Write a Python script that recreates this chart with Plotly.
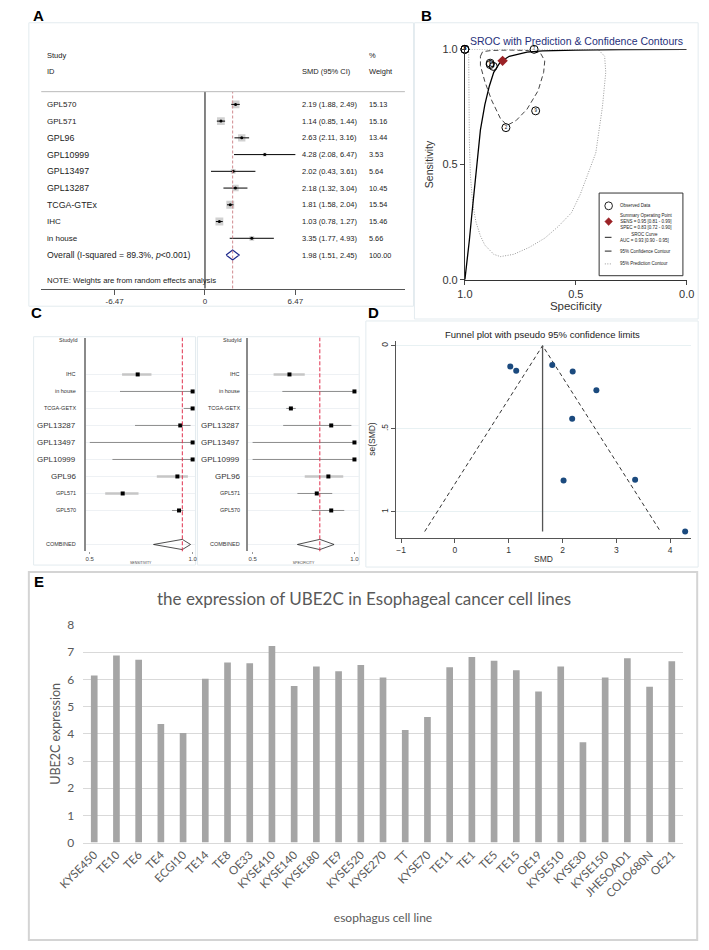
import plotly.graph_objects as go
import numpy as np

# ---------------- DATA ----------------
# Panel A: forest plot of SMD
studies_A = ["GPL570", "GPL571", "GPL96", "GPL10999", "GPL13497", "GPL13287", "TCGA-GTEx", "IHC", "in house"]
smd = [2.19, 1.14, 2.63, 4.28, 2.02, 2.18, 1.81, 1.03, 3.35]
smd_lo = [1.88, 0.85, 2.11, 2.08, 0.43, 1.32, 1.58, 0.78, 1.77]
smd_hi = [2.49, 1.44, 3.16, 6.47, 3.61, 3.04, 2.04, 1.27, 4.93]
weights = [15.13, 15.16, 13.44, 3.53, 5.64, 10.45, 15.54, 15.46, 5.66]
overall_smd = [1.98, 1.51, 2.45]
overall_weight = 100.00
i_squared = 89.3
ticks_A = [-6.47, 0, 6.47]

# Panel C: sensitivity / specificity forest plots (also the observed data of panel B)
studies_C = ["IHC", "in house", "TCGA-GETX", "GPL13287", "GPL13497", "GPL10999", "GPL96", "GPL571", "GPL570"]
sens = [0.733, 1.0, 1.0, 0.94, 1.0, 1.0, 0.926, 0.66, 0.934]
sens_lo = [0.657, 0.647, 0.957, 0.72, 0.50, 0.61, 0.826, 0.575, 0.90]
sens_hi = [0.80, 1.0, 1.0, 0.99, 1.0, 1.0, 0.977, 0.737, 0.955]
spec = [0.681, 1.0, 0.688, 0.886, 1.0, 1.0, 0.872, 0.815, 0.886]
spec_lo = [0.603, 0.646, 0.665, 0.65, 0.50, 0.50, 0.756, 0.72, 0.79]
spec_hi = [0.756, 1.0, 0.712, 0.985, 1.0, 1.0, 0.945, 0.891, 0.95]
pooled_sens = [0.95, 0.81, 0.99]
pooled_spec = [0.83, 0.72, 0.90]
auc = [0.93, 0.90, 0.95]

# Panel B: SROC curve and contours (specificity, sensitivity)
sroc_spec = [1.0, 0.99, 0.98, 0.97, 0.96, 0.95, 0.94, 0.93, 0.91, 0.89, 0.87, 0.84, 0.80, 0.75, 0.72, 0.65, 0.5, 0.3, 0.0]
sroc_sens = [0.0, 0.08, 0.17, 0.27, 0.37, 0.46, 0.56, 0.65, 0.76, 0.84, 0.90, 0.945, 0.97, 0.983, 0.988, 0.993, 0.997, 0.999, 1.0]
conf_spec = [0.93, 0.92, 0.88, 0.80, 0.72, 0.66, 0.64, 0.645, 0.67, 0.72, 0.77, 0.81, 0.84, 0.88, 0.91, 0.93, 0.93]
conf_sens = [0.97, 0.99, 0.995, 0.997, 0.995, 0.985, 0.95, 0.90, 0.82, 0.74, 0.69, 0.67, 0.70, 0.78, 0.86, 0.93, 0.97]
pred_spec = [0.983, 0.983, 0.98, 0.975, 0.965, 0.95, 0.93, 0.91, 0.87, 0.84, 0.78, 0.71, 0.64, 0.58, 0.52, 0.48, 0.45, 0.41, 0.38, 0.365, 0.37, 0.40, 0.983]
pred_sens = [1.0, 0.8, 0.6, 0.45, 0.33, 0.25, 0.19, 0.15, 0.11, 0.10, 0.11, 0.14, 0.18, 0.23, 0.29, 0.37, 0.45, 0.55, 0.75, 0.90, 0.97, 1.0, 1.0]

# Panel D: funnel plot
se_smd = [0.156, 0.151, 0.268, 1.118, 0.811, 0.439, 0.117, 0.125, 0.806]
fixed_smd = 1.63

# Panel E: UBE2C expression in cell lines
cell_lines = ["KYSE450", "TE10", "TE6", "TE4", "ECGI10", "TE14", "TE8", "OE33", "KYSE410", "KYSE140",
              "KYSE180", "TE9", "KYSE520", "KYSE270", "TT", "KYSE70", "TE11", "TE1", "TE5", "TE15",
              "OE19", "KYSE510", "KYSE30", "KYSE150", "JHESOAD1", "COLO680N", "OE21"]
expression = [6.15, 6.88, 6.73, 4.36, 4.03, 6.03, 6.62, 6.60, 7.23, 5.76,
              6.48, 6.30, 6.53, 6.07, 4.14, 4.62, 6.45, 6.83, 6.69, 6.34,
              5.56, 6.48, 3.69, 6.07, 6.78, 5.73, 6.67]

# ---------------- LAYOUT HELPERS ----------------
W, H = 709, 950
def fx(p): return p / W
def fy(p): return 1 - p / H
def xd(a, b): return [a / W, b / W]
def yd(t, b): return [1 - b / H, 1 - t / H]

ARIAL = "Liberation Sans"
CAL = "Lato"
fig = go.Figure()
ann = []
shp = []

def text(t, x, y, size, anchor="left", color="#222", family=ARIAL, xref="paper", yref="paper", angle=0, yanchor="middle"):
    ann.append(dict(text=t, x=x, y=y, xref=xref, yref=yref, showarrow=False, xanchor=anchor,
                    yanchor=yanchor, textangle=angle, font=dict(size=size, color=color, family=family)))

def frame(x0, y0, x1, y1, color="#e3ebef", width=1):
    shp.append(dict(type="rect", xref="paper", yref="paper", x0=fx(x0), x1=fx(x1), y0=fy(y1), y1=fy(y0),
                    line=dict(color=color, width=width), fillcolor="rgba(0,0,0,0)", layer="below"))

def pline(x0, y0, x1, y1, color="#222", width=1, dash="solid"):
    shp.append(dict(type="line", xref="paper", yref="paper", x0=fx(x0), x1=fx(x1), y0=fy(y0), y1=fy(y1),
                    line=dict(color=color, width=width, dash=dash)))

# panel frames
frame(3, 15, 407, 303)
frame(408, 15, 706, 316)
frame(8, 334, 178, 566)
frame(180, 334, 350, 566)
frame(357, 318, 706, 568)
frame(3, 573, 705, 947, color="#d4d4d4", width=2)

# ---------------- PANEL A ----------------
rowsA = list(range(len(studies_A)))
cx, cy = [], []
for i, (l, h) in enumerate(zip(smd_lo, smd_hi)):
    cx += [l, h, None]; cy += [i, i, None]
fig.add_trace(go.Scatter(x=smd, y=rowsA, mode="markers", xaxis="x", yaxis="y", showlegend=False, hoverinfo="skip",
                         marker=dict(symbol="square", size=[2.0 * np.sqrt(w) for w in weights], color="#bdbdbd", line_width=0)))
fig.add_trace(go.Scatter(x=cx, y=cy, mode="lines", xaxis="x", yaxis="y", showlegend=False, hoverinfo="skip",
                         line=dict(color="black", width=1)))
fig.add_trace(go.Scatter(x=smd, y=rowsA, mode="markers", xaxis="x", yaxis="y", showlegend=False, hoverinfo="skip",
                         marker=dict(symbol="circle", size=3, color="black")))
ov_row = len(studies_A)
ov_e, ov_l, ov_h = overall_smd
fig.add_trace(go.Scatter(x=[ov_l, ov_e, ov_h, ov_e, ov_l], y=[ov_row, ov_row - 0.3, ov_row, ov_row + 0.3, ov_row],
                         mode="lines", xaxis="x", yaxis="y", showlegend=False, hoverinfo="skip",
                         line=dict(color="#1f2a8c", width=1.2)))
shp.append(dict(type="line", xref="x", yref="y domain", x0=0, x1=0, y0=0, y1=1, line=dict(color="#333", width=1.2)))
shp.append(dict(type="line", xref="x", yref="y domain", x0=ov_e, x1=ov_e, y0=0, y1=1,
                line=dict(color="#d08a8f", width=1, dash="3px,2px")))
shp.append(dict(type="line", xref="x domain", yref="y domain", x0=0, x1=1, y0=1, y1=1, line=dict(color="#bbbbbb", width=1)))

sizeA = {"GPL570": 8, "GPL571": 8, "IHC": 8, "in house": 8}
for i, s in enumerate(studies_A):
    text(s, fx(20), i, sizeA.get(s, 8.8), xref="paper", yref="y")
    text(f"{smd[i]:.2f} ({smd_lo[i]:.2f}, {smd_hi[i]:.2f})", fx(288), i, 7.5, xref="paper", yref="y")
    text(f"{weights[i]:.2f}", fx(358), i, 7.3, xref="paper", yref="y")
text(f"Overall (I-squared = {i_squared}%, <i>p</i>&lt;0.001)", fx(20), ov_row, 8.7, xref="paper", yref="y")
text(f"{ov_e:.2f} ({ov_l:.2f}, {ov_h:.2f})", fx(288), ov_row, 7.5, xref="paper", yref="y")
text(f"{overall_weight:.2f}", fx(358), ov_row, 7.3, xref="paper", yref="y")
text("NOTE: Weights are from random effects analysis", fx(20), fy(277), 7.8)
text("Study", fx(20), fy(48), 7.5)
text("ID", fx(20), fy(65), 7.5)
text("SMD (95% CI)", fx(288), fy(65), 7.5)
text("%", fx(358), fy(48), 7.5)
text("Weight", fx(358), fy(65), 7.5)

# ---------------- PANEL B ----------------
fig.add_trace(go.Scatter(x=pred_spec, y=pred_sens, mode="lines", xaxis="x2", yaxis="y2", showlegend=False,
                         line=dict(color="#9a9a9a", width=1, dash="1px,1.5px"), hoverinfo="skip", cliponaxis=False))
fig.add_trace(go.Scatter(x=conf_spec, y=conf_sens, mode="lines", xaxis="x2", yaxis="y2", showlegend=False,
                         line=dict(color="#444", width=1, dash="5px,3px"), hoverinfo="skip", cliponaxis=False))
fig.add_trace(go.Scatter(x=sroc_spec, y=sroc_sens, mode="lines", xaxis="x2", yaxis="y2", showlegend=False,
                         line=dict(color="black", width=1.3), hoverinfo="skip", cliponaxis=False))
fig.add_trace(go.Scatter(x=spec, y=sens, mode="markers+text", xaxis="x2", yaxis="y2", showlegend=False,
                         text=[str(len(studies_C) - i) for i in range(len(studies_C))],
                         textposition="middle center", textfont=dict(size=4.5, color="black"),
                         marker=dict(symbol="circle-open", size=8, color="black", line=dict(width=1)),
                         hoverinfo="skip", cliponaxis=False))
fig.add_trace(go.Scatter(x=[pooled_spec[0]], y=[pooled_sens[0]], mode="markers", xaxis="x2", yaxis="y2",
                         showlegend=False, marker=dict(symbol="diamond", size=8, color="#9b2226"),
                         hoverinfo="skip", cliponaxis=False))
text("SROC with Prediction &amp; Confidence Contours", fx(578), fy(34), 10.5, anchor="center", color="#26307a")

# manual legend box for panel B
frame(602, 188, 690, 272, color="#333", width=1)
shp.append(dict(type="circle", xref="paper", yref="paper", x0=fx(608), x1=fx(616), y0=fy(205), y1=fy(197),
                line=dict(color="#222", width=1)))
shp.append(dict(type="path", xref="paper", yref="paper",
                path=f"M {fx(612)},{fy(213)} L {fx(616)},{fy(217)} L {fx(612)},{fy(221)} L {fx(608)},{fy(217)} Z",
                fillcolor="#9b2226", line=dict(color="#9b2226", width=0.5)))
pline(608, 233, 615, 233, "#222", 1)
pline(608, 247, 615, 247, "#222", 1)
pline(608, 260, 615, 260, "#999", 1, "1px,1.5px")
LF = 4.5
text("Observed Data", fx(622), fy(201), LF)
text(f"Summary Operating Point<br>SENS = {pooled_sens[0]:.2f} [{pooled_sens[1]:.2f} - {pooled_sens[2]:.2f}]"
     f"<br>SPEC = {pooled_spec[0]:.2f} [{pooled_spec[1]:.2f} - {pooled_spec[2]:.2f}]", fx(622), fy(217), LF)
text(f"SROC Curve<br>AUC = {auc[0]:.2f} [{auc[1]:.2f} - {auc[2]:.2f}]", fx(622), fy(233), LF)
text("95% Confidence Contour", fx(622), fy(247), LF)
text("95% Prediction Contour", fx(622), fy(260), LF)

# ---------------- PANEL C ----------------
small_lab = {"IHC", "in house", "TCGA-GETX", "GPL571", "GPL570"}
thick_rows_sens = {"IHC", "GPL96", "GPL571"}
thick_rows_spec = {"IHC", "GPL96"}
comb_row = len(studies_C) + 1

def forestC(est, lo, hi, pooled, xa, ya, lab_x, thick):
    rows = list(range(len(studies_C)))
    for i, s in enumerate(studies_C):
        if s in thick:
            col, wd = "#c6c6c6", 2.5
        else:
            col, wd = "#8c8c8c", 1
        fig.add_trace(go.Scatter(x=[lo[i], hi[i]], y=[i, i], mode="lines", xaxis=xa, yaxis=ya, showlegend=False,
                                 hoverinfo="skip", line=dict(color=col, width=wd), cliponaxis=False))
    fig.add_trace(go.Scatter(x=est, y=rows, mode="markers", xaxis=xa, yaxis=ya, showlegend=False, hoverinfo="skip",
                             marker=dict(symbol="square", size=4, color="black"), cliponaxis=False))
    e, l, h = pooled
    fig.add_trace(go.Scatter(x=[l, e, h, e, l], y=[comb_row, comb_row - 0.3, comb_row, comb_row + 0.3, comb_row],
                             mode="lines", xaxis=xa, yaxis=ya, showlegend=False, hoverinfo="skip",
                             line=dict(color="#222", width=0.8)))
    yref = "y" + xa[1:]
    shp.append(dict(type="line", xref=xa, yref=yref + " domain", x0=e, x1=e, y0=0, y1=1,
                    line=dict(color="#e0304e", width=1, dash="4px,2px")))
    for i, s in enumerate(studies_C):
        text(s, fx(lab_x), i, 5.5 if s in small_lab else 8, anchor="right", color="#333", xref="paper", yref=yref)
    text("COMBINED", fx(lab_x), comb_row, 5.5, anchor="right", color="#333", xref="paper", yref=yref)
    text("StudyId", fx(lab_x + 2), -2, 5.5, anchor="right", color="#333", xref="paper", yref=yref)

forestC(sens, sens_lo, sens_hi, pooled_sens, "x3", "y3", 55, thick_rows_sens)
forestC(spec, spec_lo, spec_hi, pooled_spec, "x4", "y4", 227, thick_rows_spec)

# ---------------- PANEL D ----------------
fig.add_trace(go.Scatter(x=[fixed_smd - 1.96 * max(se_smd), fixed_smd, fixed_smd + 1.96 * max(se_smd)],
                         y=[max(se_smd), 0, max(se_smd)], mode="lines", xaxis="x5", yaxis="y5", showlegend=False,
                         hoverinfo="skip", line=dict(color="#333", width=1, dash="4px,3px")))
fig.add_trace(go.Scatter(x=[fixed_smd, fixed_smd], y=[0, max(se_smd)], mode="lines", xaxis="x5", yaxis="y5",
                         showlegend=False, hoverinfo="skip", line=dict(color="#555", width=1.3)))
fig.add_trace(go.Scatter(x=smd, y=se_smd, mode="markers", xaxis="x5", yaxis="y5", showlegend=False, hoverinfo="skip",
                         marker=dict(size=6, color="#1b4a7e"), cliponaxis=False))
text("Funnel plot with pseudo 95% confidence limits", fx(543), fy(332), 9.5, anchor="center", color="#222")

# ---------------- PANEL E ----------------
fig.add_trace(go.Bar(x=cell_lines, y=expression, xaxis="x6", yaxis="y6", showlegend=False, hoverinfo="skip",
                     marker=dict(color="#a5a5a5", line_width=0), width=0.3))
text("the expression of UBE2C in Esophageal cancer cell lines", fx(355), fy(600), 17, anchor="center",
     color="#595959", family=CAL)

# panel letters
for L, x, y in [("A", 5, 8), ("B", 413, 8), ("C", 3, 309), ("D", 357, 309), ("E", 6, 583)]:
    text(f"<b>{L}</b>", fx(x), fy(y), 15, color="black")

# ---------------- AXES ----------------
tf = lambda s, c="#333", f=ARIAL: dict(size=s, color=c, family=f)
fig.update_layout(
    width=W, height=H, margin=dict(l=0, r=0, t=0, b=0), paper_bgcolor="white", plot_bgcolor="white",
    font=dict(family=ARIAL), showlegend=False,
    xaxis=dict(domain=xd(16, 398), range=[-11.72, 14.31], anchor="y", showline=True, linecolor="#555", linewidth=1,
               ticks="outside", ticklen=5, tickcolor="#555", tickvals=ticks_A,
               ticktext=[f"{t:g}" for t in ticks_A], tickfont=tf(8), showgrid=False, zeroline=False),
    yaxis=dict(domain=yd(85, 285), range=[11.0, -0.76], anchor="x", visible=False),
    xaxis2=dict(domain=xd(461, 694), range=[1, 0], anchor="y2", showline=True, linecolor="#333", ticks="outside",
                ticklen=4, tickvals=[1, 0.5, 0], ticktext=["1.0", "0.5", "0.0"], tickfont=tf(11), showgrid=False,
                zeroline=False, title=dict(text="Specificity", font=tf(11.5), standoff=0)),
    yaxis2=dict(domain=yd(42, 276), range=[0, 1], anchor="x2", showline=True, linecolor="#333", ticks="outside",
                ticklen=4, tickvals=[0, 0.5, 1], ticktext=["0.0", "0.5", "1.0"], tickfont=tf(11), showgrid=False,
                zeroline=False, title=dict(text="Sensitivity", font=tf(10.5), standoff=6)),
    xaxis3=dict(domain=xd(63, 178), range=[0.4815, 1.0139], anchor="y3", showline=False, ticks="outside", ticklen=2,
                tickcolor="#999", tickvals=[0.5, 1.0], ticktext=["0.5", "1.0"], tickfont=tf(6, "#444"),
                showgrid=False, zeroline=False, title=dict(text="SENSITIVITY", font=tf(3.5, "#444"), standoff=0)),
    yaxis3=dict(domain=yd(335, 552), range=[10.4, -2.16], anchor="x3", showline=True, linecolor="#8a8a8a",
                linewidth=1.5, tickvals=list(range(len(studies_C))) + [comb_row], showticklabels=False,
                showgrid=True, gridcolor="#eef1f4", zeroline=False),
    xaxis4=dict(domain=xd(233, 350), range=[0.4766, 1.0234], anchor="y4", showline=False, ticks="outside", ticklen=2,
                tickcolor="#999", tickvals=[0.5, 1.0], ticktext=["0.5", "1.0"], tickfont=tf(6, "#444"),
                showgrid=False, zeroline=False, title=dict(text="SPECIFICITY", font=tf(3.5, "#444"), standoff=0)),
    yaxis4=dict(domain=yd(335, 552), range=[10.4, -2.16], anchor="x4", showline=True, linecolor="#8a8a8a",
                linewidth=1.5, tickvals=list(range(len(studies_C))) + [comb_row], showticklabels=False,
                showgrid=True, gridcolor="#eef1f4", zeroline=False),
    xaxis5=dict(domain=xd(389, 698), range=[-1.088, 4.38], anchor="y5", showline=True, linecolor="#555",
                ticks="outside", ticklen=4, tickcolor="#555", tickvals=[-1, 0, 1, 2, 3, 4], tickfont=tf(8.5),
                showgrid=False, zeroline=False, title=dict(text="SMD", font=tf(8.5), standoff=2)),
    yaxis5=dict(domain=yd(338, 538), range=[1.154, -0.03], anchor="x5", showline=True, linecolor="#555",
                ticks="outside", ticklen=4, tickcolor="#555", tickvals=[0, 0.5, 1], ticktext=["0", ".5", "1"],
                tickangle=-90, tickfont=tf(8.5), showgrid=True, gridcolor="#e8f1f3", zeroline=False,
                title=dict(text="se(SMD)", font=tf(8.5), standoff=2)),
    xaxis6=dict(domain=xd(60, 690), anchor="y6", type="category", showline=True, linecolor="#d9d9d9",
                ticks="", tickangle=-45, tickfont=tf(11.5, "#595959", CAL), showgrid=False,
                title=dict(text="esophagus cell line", font=tf(12, "#595959", CAL), standoff=14)),
    yaxis6=dict(domain=yd(627, 848), range=[0, 8], anchor="x6", dtick=1, showline=False, showgrid=True,
                gridcolor="#d9d9d9", zeroline=False, tickfont=tf(12, "#595959", CAL), ticks="", ticklabelstandoff=8,
                title=dict(text="UBE2C expression", font=tf(12.5, "#595959", CAL), standoff=3)),
    annotations=ann, shapes=shp, bargap=0.7,
)

fig.write_html("out.html", config={"displayModeBar": False},
               post_script="document.body.style.margin='0px';")
